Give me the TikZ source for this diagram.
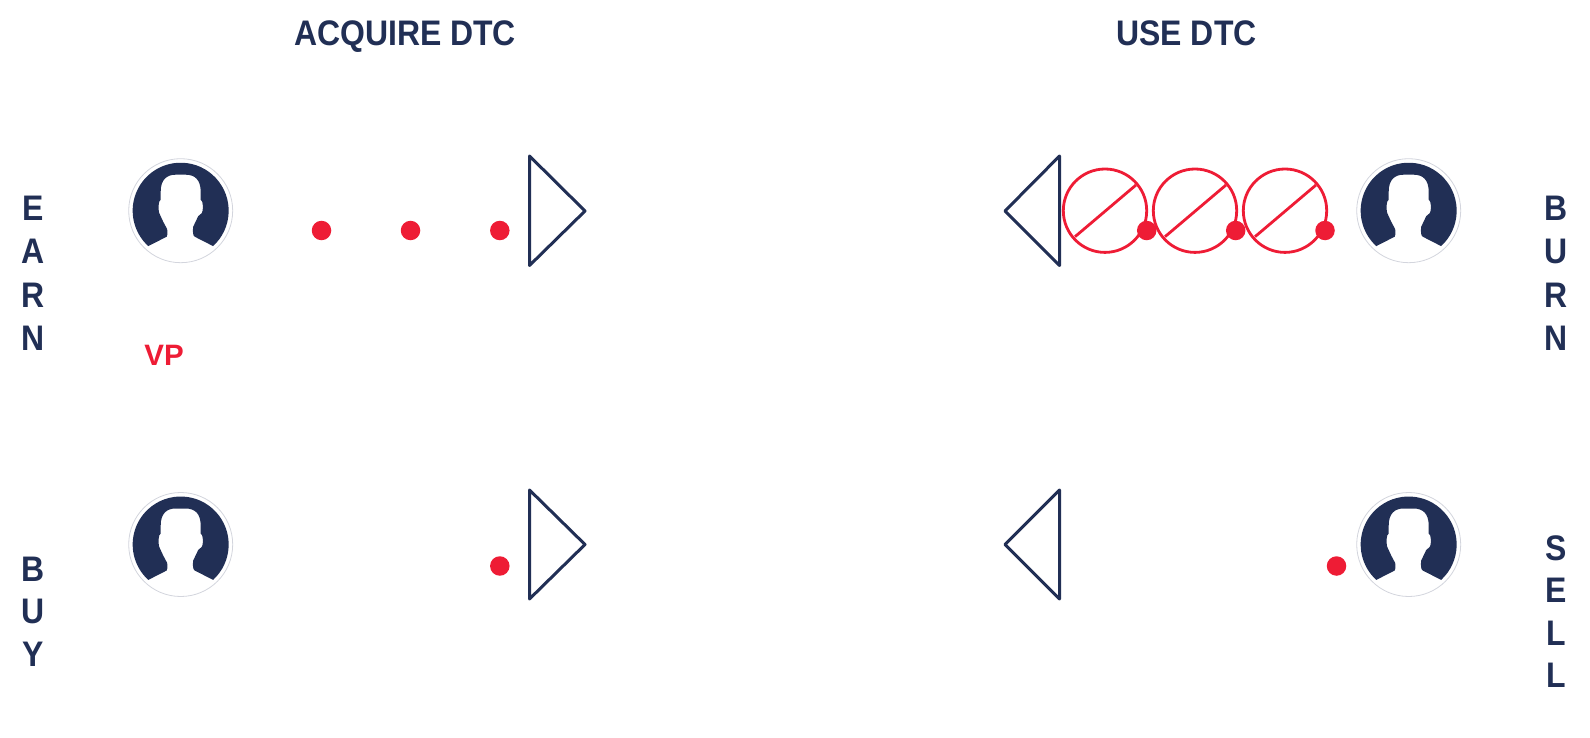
\documentclass[tikz,border=0pt]{standalone}
\usepackage{fontspec}
\setmainfont{Liberation Sans}
\newfontfamily\rbfont[FakeStretch=0.9]{Liberation Sans}
\definecolor{navy}{HTML}{212F55}
\definecolor{redd}{HTML}{EE1C35}
\tikzset{x=1pt,y=-1pt,
 title/.style={font=\rbfont\fontsize{35.5}{35.5}\selectfont\bfseries,text=navy,inner sep=0pt,anchor=base},
 letter/.style={font=\rbfont\fontsize{35.5}{35.5}\selectfont\bfseries,text=navy,inner sep=0pt,anchor=base},
 vp/.style={font=\fontsize{29.5}{29.5}\selectfont\bfseries,text=redd,inner sep=0pt,anchor=base},
 tri/.style={draw=navy,line width=3pt,line join=round,fill=white},
 nocoin/.style={draw=redd,line width=2.8pt},
 token/.style={circle,fill=redd,draw=none,minimum size=19.5pt,inner sep=0pt},
 avatar/.pic={
  \draw[draw=navy!20,line width=.8pt,fill=white] (0,0) circle (52);
  \fill[navy] (-32.4,35.4) -- (-14,26) .. controls (-13.2,25.5) and (-13.2,23) .. (-13.5,18.5)
     -- (-17.5,11) -- (-20.5,4.5)
     .. controls (-22.5,2) and (-22.5,-5) .. (-21.5,-9) -- (-20,-11)
     -- (-20,-19) .. controls (-20,-31) and (-14,-36) .. (-5,-36)
     -- (5,-36) .. controls (14,-36) and (20,-31) .. (20,-19)
     -- (20,-11) -- (21.5,-9) .. controls (22.5,-5) and (22.5,0) .. (21,2.5)
     -- (17.5,5.5) -- (12.5,16)
     .. controls (12,20) and (12,25) .. (14,26)
     -- (32.4,35.4) arc[start angle=47.5,end angle=-227.5,radius=48] -- cycle;
 }
}
\begin{document}
\begin{tikzpicture}
\useasboundingbox (0,0) rectangle (1590,738);
\node[title] (t1) at (405,46) {ACQUIRE DTC};
\node[title] (t2) at (1186.5,46) {USE DTC};
% side letters
\node[letter] (e1) at (33,221) {E};
\node[letter] (e2) at (33,263.7) {A};
\node[letter] (e3) at (33,307) {R};
\node[letter] (e4) at (33,350) {N};
\node[letter] (b1) at (33,581) {B};
\node[letter] (b2) at (33,623.6) {U};
\node[letter] (b3) at (33,666) {Y};
\node[letter] (u1) at (1556,221) {B};
\node[letter] (u2) at (1556,263.7) {U};
\node[letter] (u3) at (1556,307) {R};
\node[letter] (u4) at (1556,350) {N};
\node[letter] (s1) at (1556,560) {S};
\node[letter] (s2) at (1556,602) {E};
\node[letter] (s3) at (1556,645) {L};
\node[letter] (s4) at (1556,687.5) {L};
\node[vp] (vp) at (164,365) {VP};
% avatars
\pic at (180.7,210.7) {avatar};
\pic at (180.7,544.5) {avatar};
\pic at (1408.7,210.7) {avatar};
\pic at (1408.7,544.5) {avatar};
% triangles
\draw[tri] (529.5,156) -- (585,211) -- (529.5,265.5) -- cycle;
\draw[tri] (529.5,490) -- (585,544.5) -- (529.5,599) -- cycle;
\draw[tri] (1059.5,156) -- (1005,211) -- (1059.5,265.5) -- cycle;
\draw[tri] (1059.5,490) -- (1005,544.5) -- (1059.5,599) -- cycle;
% no-entry circles
\foreach \cx in {1105,1195,1285}{
 \draw[nocoin] (\cx,210.7) circle (41.7);
 \draw[nocoin] (\cx-30,236.7) -- (\cx+31,185);
}
% tokens
\node[token] (d1) at (321.5,230.5) {};
\node[token] (d2) at (410.5,230.5) {};
\node[token] (d3) at (499.8,230.5) {};
\node[token] (d4) at (499.8,566) {};
\node[token] (d5) at (1336.5,566) {};
\node[token] (d6) at (1146.7,230.5) {};
\node[token] (d7) at (1235.7,230.5) {};
\node[token] (d8) at (1325,230.5) {};
\end{tikzpicture}
\end{document}
